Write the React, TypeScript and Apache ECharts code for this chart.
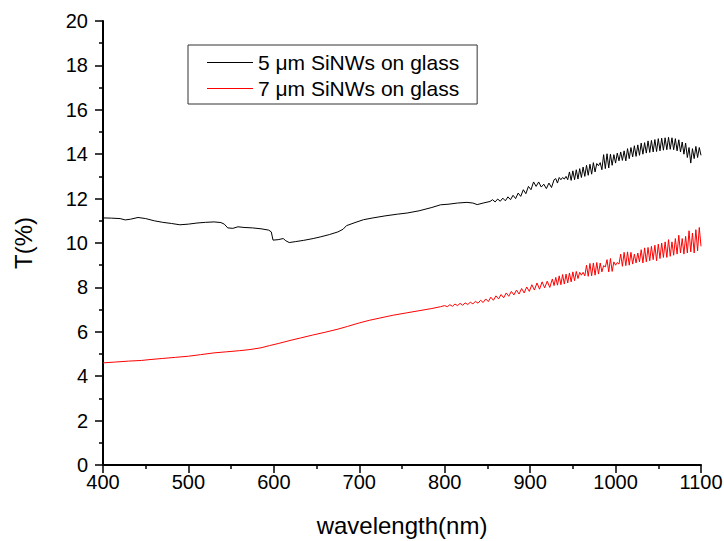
import React, { useEffect, useRef } from "react";
import * as echarts from "echarts";

const seriesNames = ["5 \u03bcm SiNWs on glass", "7 \u03bcm SiNWs on glass"];
const xTicks = { min: 400, max: 1100, interval: 100 };
const yTicks = { min: 0, max: 20, interval: 2 };

// 5 µm sample: smooth part (wavelength nm, T %)
const blackSmooth: [number, number][] = [
  [400, 11.13], [410, 11.12], [420, 11.1], [426, 11.04], [432, 11.07], [441, 11.15],
  [450, 11.1], [460, 11.0], [470, 10.93], [480, 10.88], [490, 10.82], [500, 10.85],
  [510, 10.9], [520, 10.93], [530, 10.95], [538, 10.92], [542, 10.85], [546, 10.68],
  [552, 10.66], [558, 10.73], [565, 10.7], [575, 10.68], [585, 10.64], [594, 10.58],
  [597, 10.5], [599, 10.13], [605, 10.15], [611, 10.2], [614, 10.1], [618, 10.02],
  [625, 10.06], [635, 10.12], [646, 10.2], [655, 10.28], [665, 10.38], [675, 10.5],
  [681, 10.62], [685, 10.78], [695, 10.92], [705, 11.05], [716, 11.13], [730, 11.22],
  [745, 11.3], [756, 11.35], [770, 11.45], [785, 11.6], [795, 11.72], [805, 11.75],
  [815, 11.8], [826, 11.83], [833, 11.8], [838, 11.73], [845, 11.8], [853, 11.87],
];

// 5 µm sample: interference-fringe part
const blackFringe: [number, number][] = [
  [856, 11.95], [859, 11.85], [862, 11.98], [865, 11.88], [868, 12.02], [871, 11.9],
  [874, 12.08], [877, 11.95], [880, 12.15], [883, 12.0], [886, 12.25], [889, 12.1],
  [892, 12.4], [895, 12.22], [898, 12.55], [901, 12.4], [904, 12.75], [907, 12.55],
  [910, 12.75], [913, 12.52], [916, 12.65], [919, 12.45], [922, 12.7], [925, 12.5],
  [928, 12.85], [930, 12.9], [932, 12.7], [934, 12.95], [936, 12.85], [938, 12.95],
  [940, 12.88], [942, 13.0], [944, 12.85], [946, 13.2], [948, 12.82], [950, 13.25],
  [952, 12.85], [954, 13.3], [956, 12.88], [958, 13.35], [960, 12.95], [962, 13.42],
  [964, 13.0], [966, 13.5], [968, 13.05], [970, 13.55], [972, 13.1], [974, 13.62],
  [976, 13.2], [978, 13.58], [980, 13.48], [982, 13.62], [984, 13.3], [986, 13.98],
  [988, 13.35], [990, 14.02], [992, 13.38], [994, 14.0], [996, 13.5], [998, 13.98],
  [1000, 13.6], [1002, 14.05], [1004, 13.7], [1006, 14.1], [1008, 13.72], [1010, 14.15],
  [1012, 13.7], [1014, 14.25], [1016, 13.8], [1018, 14.3], [1020, 13.88], [1022, 14.38],
  [1024, 13.9], [1026, 14.42], [1028, 13.95], [1030, 14.5], [1032, 14.0], [1034, 14.52],
  [1036, 14.05], [1038, 14.6], [1040, 14.08], [1042, 14.62], [1044, 14.1], [1046, 14.66],
  [1048, 14.12], [1050, 14.7], [1052, 14.15], [1054, 14.72], [1056, 14.18], [1058, 14.74],
  [1060, 14.2], [1062, 14.76], [1064, 14.22], [1066, 14.74], [1068, 14.2], [1070, 14.7],
  [1072, 14.15], [1074, 14.65], [1076, 14.1], [1078, 14.55], [1080, 14.0], [1082, 14.5],
  [1084, 13.85], [1086, 14.3], [1088, 13.6], [1090, 14.25], [1092, 13.8], [1094, 14.35],
  [1096, 13.85], [1098, 14.3], [1100, 13.95],
];

// 7 µm sample: smooth part
const redSmooth: [number, number][] = [
  [400, 4.6], [415, 4.64], [430, 4.68], [445, 4.71], [455, 4.75], [470, 4.8],
  [485, 4.85], [500, 4.9], [514, 4.97], [530, 5.05], [545, 5.1], [560, 5.15],
  [572, 5.2], [585, 5.28], [595, 5.38], [605, 5.47], [620, 5.62], [631, 5.72],
  [645, 5.85], [660, 5.98], [675, 6.12], [686, 6.24], [700, 6.4], [712, 6.52],
  [724, 6.62], [740, 6.75], [755, 6.85], [770, 6.95], [785, 7.05], [795, 7.13],
];

// 7 µm sample: interference-fringe part
const redFringe: [number, number][] = [
  [800, 7.18], [803, 7.13], [806, 7.22], [809, 7.15], [812, 7.25], [815, 7.18],
  [818, 7.28], [821, 7.2], [824, 7.3], [827, 7.23], [830, 7.33], [833, 7.26],
  [836, 7.37], [839, 7.29], [842, 7.42], [845, 7.32], [848, 7.48], [851, 7.36],
  [854, 7.56], [857, 7.42], [860, 7.62], [863, 7.48], [866, 7.68], [869, 7.53],
  [872, 7.75], [875, 7.6], [878, 7.82], [881, 7.66], [884, 7.88], [887, 7.7],
  [890, 7.95], [893, 7.75], [896, 8.02], [899, 7.82], [902, 8.12], [905, 7.88],
  [908, 8.2], [911, 7.92], [914, 8.25], [917, 7.98], [920, 8.28], [923, 8.0],
  [926, 8.38], [928, 8.08], [930, 8.45], [932, 8.1], [934, 8.52], [936, 8.12],
  [938, 8.58], [940, 8.15], [942, 8.6], [944, 8.2], [946, 8.65], [948, 8.25],
  [950, 8.7], [952, 8.3], [954, 8.72], [956, 8.4], [958, 8.68], [960, 8.55],
  [962, 8.68], [964, 8.52], [966, 9.0], [968, 8.5], [970, 9.08], [972, 8.52],
  [974, 9.1], [976, 8.55], [978, 9.12], [980, 8.6], [982, 9.1], [984, 8.7],
  [986, 8.98], [988, 8.92], [990, 9.25], [992, 8.7], [994, 9.3], [996, 8.72],
  [998, 9.15], [1000, 9.0], [1002, 9.12], [1004, 9.05], [1006, 9.5], [1008, 8.95],
  [1010, 9.58], [1012, 8.98], [1014, 9.6], [1016, 9.0], [1018, 9.58], [1020, 9.05],
  [1022, 9.5], [1024, 9.1], [1026, 9.55], [1028, 9.15], [1030, 9.7], [1032, 9.1],
  [1034, 9.78], [1036, 9.15], [1038, 9.8], [1040, 9.2], [1042, 9.85], [1044, 9.25],
  [1046, 9.9], [1048, 9.2], [1050, 9.95], [1052, 9.3], [1054, 10.0], [1056, 9.35],
  [1058, 10.05], [1060, 9.35], [1062, 10.15], [1064, 9.4], [1066, 10.05], [1068, 9.45],
  [1070, 10.2], [1072, 9.5], [1074, 10.35], [1076, 9.55], [1078, 10.2], [1080, 9.5],
  [1082, 10.3], [1084, 9.55], [1086, 10.55], [1088, 9.6], [1090, 10.45], [1092, 9.55],
  [1094, 10.6], [1096, 9.65], [1098, 10.7], [1100, 9.85],
];

const FONT = "'Liberation Sans', Arial, Helvetica, sans-serif";

export default function App() {
  const ref = useRef<HTMLDivElement>(null);
  useEffect(() => {
    if (!ref.current) return;
    const chart = echarts.init(ref.current, undefined, { renderer: "svg" });
    const axisCommon = {
      type: "value" as const,
      nameLocation: "middle" as const,
      nameTextStyle: { fontSize: 24, color: "#000", fontFamily: FONT },
      axisLine: { show: true, lineStyle: { color: "#000", width: 2 } },
      axisTick: { show: true, inside: false, length: 8, lineStyle: { color: "#000", width: 1.5 } },
      minorTick: { show: true, splitNumber: 2, length: 4, lineStyle: { color: "#000", width: 1.5 } },
      splitLine: { show: false },
      axisLabel: {
        fontSize: 20,
        color: "#000",
        fontFamily: FONT,
        formatter: (v: number) => String(v),
      },
    };
    chart.setOption({
      animation: false,
      backgroundColor: "#fff",
      grid: {
        left: 103,
        right: 23,
        top: 21,
        bottom: 76,
        containLabel: false,
        outerBoundsMode: "none",
      },
      legend: {
        left: 188,
        top: 45,
        orient: "vertical",
        data: seriesNames,
        icon: "rect",
        itemWidth: 46,
        itemHeight: 1.2,
        itemGap: 5,
        padding: [7, 18, 5, 19],
        borderColor: "#333",
        borderWidth: 1,
        textStyle: { fontSize: 21, color: "#000", fontFamily: FONT },
        selectedMode: false,
      },
      xAxis: {
        ...axisCommon,
        min: xTicks.min,
        max: xTicks.max,
        interval: xTicks.interval,
        name: "wavelength(nm)",
        nameGap: 48,
        axisLabel: { ...axisCommon.axisLabel, margin: 7 },
      },
      yAxis: {
        ...axisCommon,
        min: yTicks.min,
        max: yTicks.max,
        interval: yTicks.interval,
        name: "T(%)",
        nameGap: 68,
        nameRotate: 90,
        axisLabel: { ...axisCommon.axisLabel, margin: 15 },
      },
      series: [
        {
          name: seriesNames[0],
          type: "line",
          symbol: "none",
          data: [...blackSmooth, ...blackFringe],
          lineStyle: { color: "#000", width: 1 },
          itemStyle: { color: "#000" },
        },
        {
          name: seriesNames[1],
          type: "line",
          symbol: "none",
          data: [...redSmooth, ...redFringe],
          lineStyle: { color: "#ff0000", width: 1 },
          itemStyle: { color: "#ff0000" },
        },
      ],
    });
    return () => chart.dispose();
  }, []);
  return (
    <div
      ref={ref}
      style={{ position: "fixed", left: 0, top: 0, width: 724, height: 541, background: "#fff" }}
    />
  );
}
